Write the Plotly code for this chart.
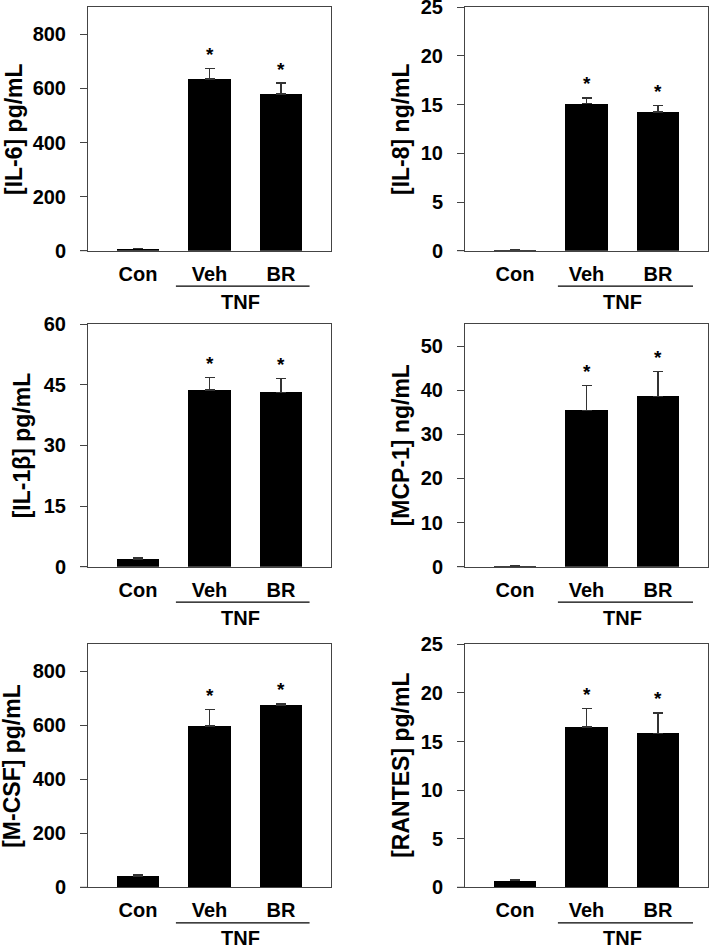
import plotly.graph_objects as go

# ---- data ----
categories = ["Con", "Veh", "BR"]
group_label = "TNF"
sig_marks = ["", "*", "*"]

il6_mean = [8, 635, 579]
il6_err = [1, 39, 41]
il8_mean = [0.1, 15.1, 14.25]
il8_err = [0.02, 0.6, 0.65]
il1b_mean = [1.8, 43.7, 43.1]
il1b_err = [0.35, 3.1, 3.4]
mcp1_mean = [0.15, 35.4, 38.6]
mcp1_err = [0.03, 5.7, 5.6]
mcsf_mean = [40, 598, 676]
mcsf_err = [5, 60, 4]
rantes_mean = [0.68, 16.5, 15.84]
rantes_err = [0.13, 1.9, 2.1]

titles = ["[IL-6] pg/mL", "[IL-8] ng/mL", "[IL-1β] pg/mL",
          "[MCP-1] ng/mL", "[M-CSF] pg/mL", "[RANTES] pg/mL"]
means = [il6_mean, il8_mean, il1b_mean, mcp1_mean, mcsf_mean, rantes_mean]
errs = [il6_err, il8_err, il1b_err, mcp1_err, mcsf_err, rantes_err]
y_ranges = [[0, 900], [0, 25], [0, 60], [0, 55], [0, 900], [0, 25]]
y_ticks = [[0, 200, 400, 600, 800], [0, 5, 10, 15, 20, 25], [0, 15, 30, 45, 60],
           [0, 10, 20, 30, 40, 50], [0, 200, 400, 600, 800], [0, 5, 10, 15, 20, 25]]

# ---- layout geometry (pixels) ----
W, H = 709, 948
col_px = [(88, 331), (465, 708)]
row_px = [(7.3, 250.7), (324, 566.7), (644.3, 887.3)]
title_x_px = [14, 401, 22, 401, 12, 401]
tnf_x = [1.44, 1.5]
tnf_line = [(0.53, 2.40), (0.60, 2.49)]

FONT = "Liberation Sans, Arial, Helvetica, sans-serif"
AXC = "#444444"

fig = go.Figure()
annotations = []
shapes = []
layout_axes = {}

for i in range(6):
    r, c = divmod(i, 2)
    suf = "" if i == 0 else str(i + 1)
    xa, ya = "x" + suf, "y" + suf
    x0, x1 = col_px[c]
    yt, yb = row_px[r]
    ph = yb - yt
    pw = x1 - x0

    fig.add_trace(go.Bar(
        x=categories, y=means[i], width=0.6,
        marker=dict(color="black", line=dict(width=0)),
        error_y=dict(type="data", array=errs[i], arrayminus=[0, 0, 0],
                     symmetric=False, visible=True,
                     color="#333333", thickness=1.5, width=5),
        xaxis=xa, yaxis=ya, showlegend=False, hoverinfo="skip"))

    layout_axes["xaxis" + suf] = dict(
        domain=[x0 / W, x1 / W], anchor=ya, type="category", automargin=False,
        range=[-0.7, 2.7], showline=True, mirror=True, linecolor=AXC,
        linewidth=1, ticks="", showgrid=False, zeroline=False,
        ticklabelstandoff=5, ticklabeloverflow="allow",
        tickfont=dict(family=FONT, size=20, color="black", weight="bold"))
    layout_axes["yaxis" + suf] = dict(
        domain=[1 - yb / H, 1 - yt / H], anchor=xa, automargin=False,
        range=y_ranges[i], tickvals=y_ticks[i], showline=True, mirror=True,
        linecolor=AXC, linewidth=1, ticks="outside", ticklen=7,
        tickcolor=AXC, tickwidth=1, showgrid=False, zeroline=False,
        ticklabelstandoff=10, ticklabeloverflow="allow",
        tickfont=dict(family=FONT, size=20, color="black", weight="bold"))

    # y-axis title
    annotations.append(dict(
        text=titles[i], textangle=-90, xref="paper", x=title_x_px[i] / W,
        yref=ya + " domain", y=0.5, xanchor="center", yanchor="middle",
        showarrow=False,
        font=dict(family=FONT, size=23, color="black", weight="bold")))

    # significance marks
    for j, cat in enumerate(categories):
        if sig_marks[j]:
            annotations.append(dict(
                text=sig_marks[j], xref=xa, yref=ya, x=cat,
                y=means[i][j] + errs[i][j], yshift=14,
                xanchor="center", yanchor="middle", showarrow=False,
                font=dict(family=FONT, size=19, color="black", weight="bold")))

    # group bracket line + label
    shapes.append(dict(type="line", xref=xa, yref=ya + " domain",
                       x0=tnf_line[c][0], x1=tnf_line[c][1],
                       y0=-35.5 / ph, y1=-35.5 / ph,
                       line=dict(color="black", width=1.2)))
    annotations.append(dict(
        text=group_label, xref=xa, yref=ya + " domain", x=tnf_x[c],
        y=-51 / ph, xanchor="center", yanchor="middle", showarrow=False,
        font=dict(family=FONT, size=20, color="black", weight="bold")))

    # x-axis baseline extending a little left of the frame
    shapes.append(dict(type="line", xref=xa + " domain", yref=ya + " domain",
                       x0=-8 / pw, x1=0, y0=0, y1=0,
                       line=dict(color=AXC, width=1)))

fig.update_layout(
    width=W, height=H, margin=dict(l=0, r=0, t=0, b=0, pad=0, autoexpand=False),
    paper_bgcolor="white", plot_bgcolor="white", showlegend=False,
    bargap=0, annotations=annotations, shapes=shapes, **layout_axes)

fig.write_html(
    "out.html",
    config={"displayModeBar": False, "staticPlot": True},
    post_script="document.body.style.margin='0px';"
                "document.body.style.overflow='hidden';")
